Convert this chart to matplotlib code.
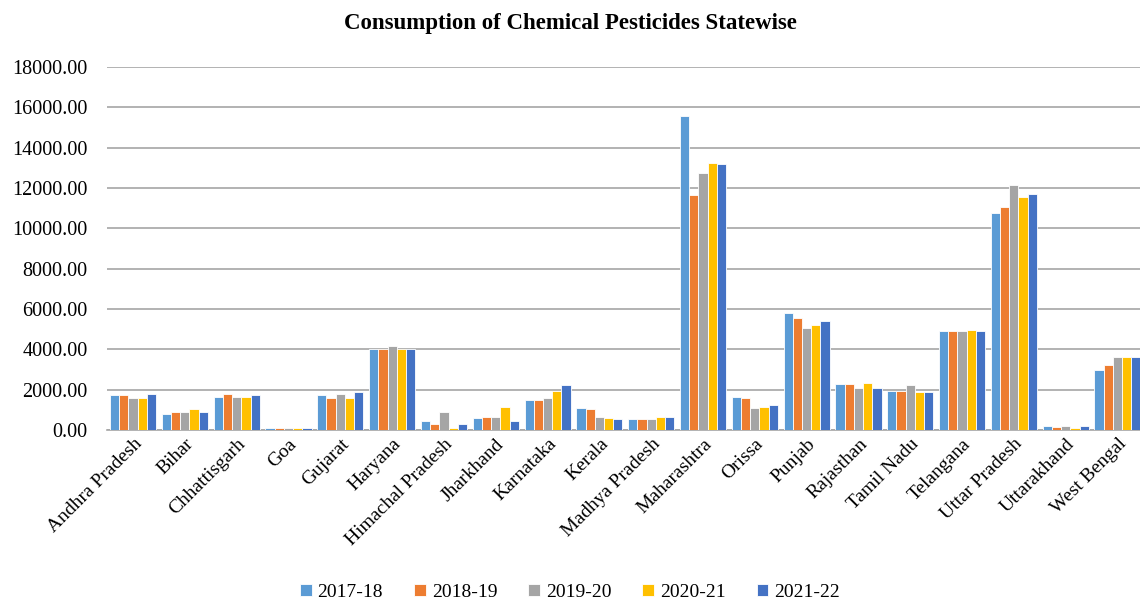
import numpy as np
import matplotlib.pyplot as plt
from matplotlib.ticker import FormatStrFormatter

plt.rcParams['font.family'] = ['Liberation Serif', 'DejaVu Serif']

# Data
states = ['Andhra Pradesh', 'Bihar', 'Chhattisgarh', 'Goa', 'Gujarat', 'Haryana',
          'Himachal Pradesh', 'Jharkhand', 'Karnataka', 'Kerala', 'Madhya Pradesh',
          'Maharashtra', 'Orissa', 'Punjab', 'Rajasthan', 'Tamil Nadu', 'Telangana',
          'Uttar Pradesh', 'Uttarakhand', 'West Bengal']
years = ['2017-18', '2018-19', '2019-20', '2020-21', '2021-22']

v_2017 = [1720, 780, 1650, 100, 1720, 4000, 430, 580, 1500, 1080, 520,
          15570, 1650, 5820, 2280, 1930, 4900, 10780, 220, 2980]
v_2018 = [1720, 880, 1800, 100, 1580, 4000, 300, 650, 1500, 1020, 520,
          11670, 1580, 5540, 2280, 1930, 4900, 11040, 150, 3200]
v_2019 = [1580, 880, 1650, 100, 1800, 4180, 880, 650, 1580, 650, 520,
          12760, 1080, 5040, 2070, 2220, 4900, 12170, 220, 3600]
v_2020 = [1580, 1020, 1650, 90, 1580, 4000, 80, 1150, 1930, 580, 650,
          13250, 1150, 5190, 2350, 1870, 4980, 11540, 80, 3600]
v_2021 = [1800, 880, 1720, 100, 1870, 4000, 300, 430, 2220, 520, 650,
          13180, 1220, 5400, 2070, 1870, 4900, 11690, 220, 3600]

series = [v_2017, v_2018, v_2019, v_2020, v_2021]
colors = ['#5B9BD5', '#ED7D31', '#A5A5A5', '#FFC000', '#4472C4']

fig = plt.figure(figsize=(11.4, 6.03), dpi=100)
ax = fig.add_axes([0.094, 0.287, 0.909, 0.602])

x = np.arange(len(states))
w = 0.178
for i, (vals, c) in enumerate(zip(series, colors)):
    ax.bar(x + (i - 2) * w, vals, w, color=c, edgecolor='white', linewidth=0.6,
           label=years[i], zorder=3)

ax.set_xlim(-0.5, len(states) - 0.5)
ax.set_ylim(0, 18000)
ax.set_yticks(np.arange(0, 18001, 2000))
ax.yaxis.set_major_formatter(FormatStrFormatter('%.2f'))
ax.grid(axis='y', color='#A6A6A6', linewidth=1.2, zorder=0)
for s in ['top', 'right', 'left']:
    ax.spines[s].set_visible(False)
ax.spines['bottom'].set_color('#A6A6A6')
ax.spines['bottom'].set_linewidth(1.2)
ax.tick_params(axis='y', length=0, labelsize=14.5, pad=14)
ax.tick_params(axis='x', length=0, labelsize=14, pad=4)
ax.set_xticks(x)
ax.set_xticklabels(states, rotation=45, ha='right', rotation_mode='anchor')

fig.suptitle('Consumption of Chemical Pesticides Statewise', fontsize=16.5,
             fontweight='bold', y=0.978)
fig.legend(loc='lower center', ncol=5, frameon=False, fontsize=14,
           handlelength=0.6, handleheight=0.6, handletextpad=0.3,
           columnspacing=1.6, bbox_to_anchor=(0.5, -0.025))

fig.savefig('out.png', dpi=100)
